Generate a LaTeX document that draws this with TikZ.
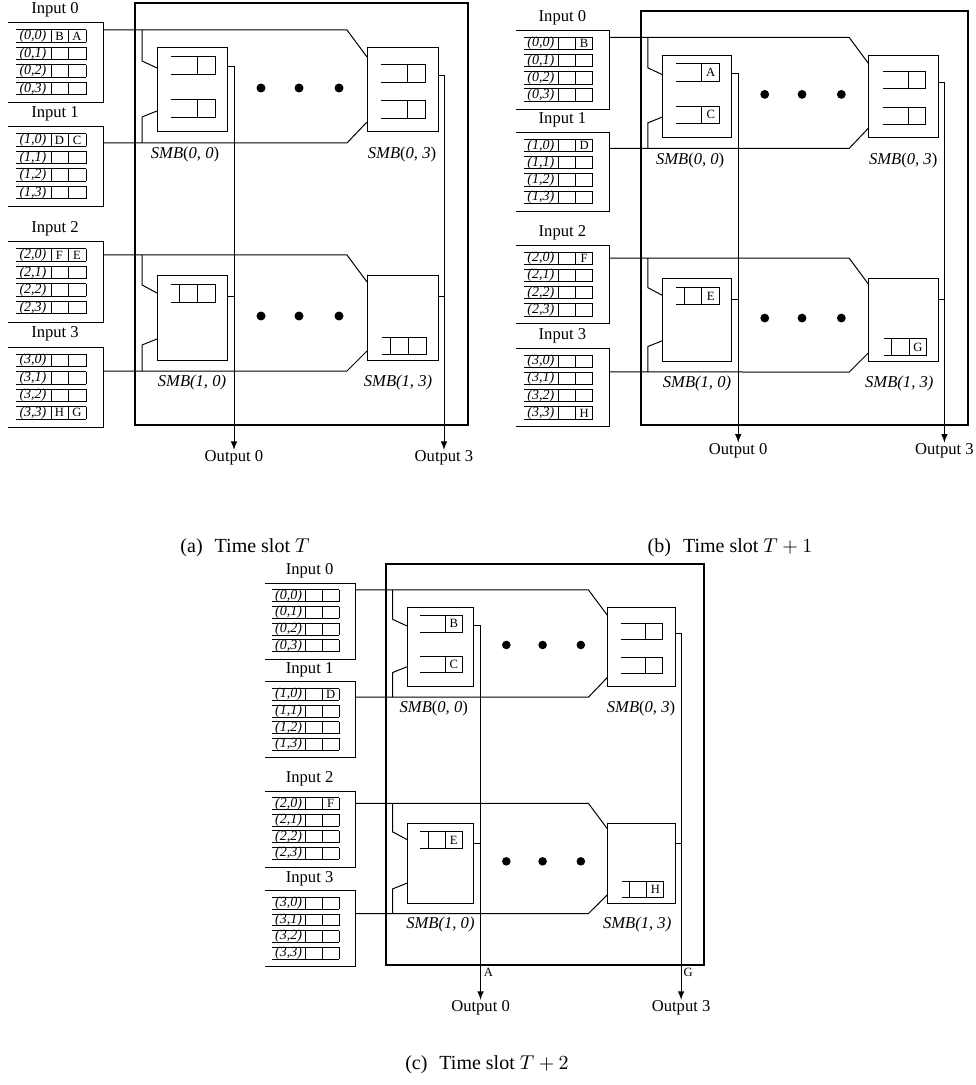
\documentclass[tikz,border=0pt]{standalone}
\usepackage{fontspec}
\setmainfont{Liberation Serif}

% one input port with its four virtual output queues
\newcommand{\voqbox}[4]{%
  \node[inlabel] (#1-lab#2) at (55,#3-13) {Input #2};
  \draw (8,#3) -- (103,#3) -- (103,#3+80) -- (8,#3+80);
  \foreach \row in {0,...,3}{
    \pgfmathsetmacro{\yt}{#3+7+17.5*\row}
    \draw (16,\yt) -- (86,\yt) (16,\yt+12.5) -- (86,\yt+12.5);
    \foreach \xc in {51,68,86}
      \draw (\xc,\yt) -- (\xc,\yt+12.5);
    \node[voq] (#1-voq#2\row) at (33,\yt+6.25) {(#2,\row)};
    \coordinate (#1-c#2\row-a) at (59.5,\yt+6.25);
    \coordinate (#1-c#2\row-b) at (77,\yt+6.25);
  }
  \coordinate (#1-in#2) at (103,#3+#4);
}
% queues inside a shared memory block
\newcommand{\qtwo}[3]{%
  \draw (#2,#3) -- (#2+44,#3) -- (#2+44,#3+17.5) -- (#2,#3+17.5)
        (#2+26,#3) -- (#2+26,#3+17.5);
  \coordinate (#1) at (#2+35,#3+8.75);
}
\newcommand{\qthree}[3]{%
  \qtwo{#1}{#2}{#3}
  \draw (#2+8,#3) -- (#2+8,#3+17.5);
}
% whole switch, #2 = end of the output arrows
\newcommand{\smbpanel}[2]{%
  \draw[frame] (135,3) rectangle (468,425);
  % inputs
  \voqbox{#1}{0}{23}{7}
  \voqbox{#1}{1}{127}{16}
  \voqbox{#1}{2}{242}{13}
  \voqbox{#1}{3}{347}{24}
  % buses
  \draw (#1-in0) -- (347,30) -- (367,57);
  \draw (#1-in1) -- (347,143) -- (367,122);
  \draw (#1-in2) -- (347,255) -- (367,282);
  \draw (#1-in3) -- (347,371) -- (367,351);
  \draw (142,30) -- (142,61) -- (157,68);
  \draw (142,143) -- (142,117) -- (157,111);
  \draw (142,255) -- (142,285) -- (157,293);
  \draw (142,371) -- (142,345) -- (157,339);
  % shared memory blocks
  \draw (157,48) rectangle (227,132);
  \draw (367,48) rectangle (438,132);
  \draw (157,276) rectangle (227,360);
  \draw (367,276) rectangle (438,360);
  \qtwo{#1-q00a}{171}{57}
  \qtwo{#1-q00b}{171}{100}
  \qtwo{#1-q03a}{381}{65}
  \qtwo{#1-q03b}{381}{101}
  \qthree{#1-q10}{171}{285}
  \qthree{#1-q13}{382}{337}
  \node[smbname] (#1-smb00) at (185,155) {SMB\upshape(\itshape0, 0\upshape)};
  \node[smbname] (#1-smb03) at (402,155) {SMB\upshape(\itshape0, 3\upshape)};
  \node[smbname] (#1-smb10) at (192,383) {SMB(1, 0)};
  \node[smbname] (#1-smb13) at (398,383) {SMB(1, 3)};
  \foreach \xd in {261,299,339}{
    \fill (\xd,88) circle (4.5);
    \fill (\xd,316) circle (4.5);}
  % outputs
  \coordinate (#1-s00) at (227,67);
  \coordinate (#1-s03) at (438,76);
  \node[outlabel, anchor=north] (#1-out0) at (234,#2) {Output 0};
  \node[outlabel, anchor=north] (#1-out3) at (444,#2) {Output 3};
  \draw[->] (#1-s00) -| (#1-out0.north);
  \draw[->] (#1-s03) -| (#1-out3.north);
  \draw (227,297) -- (234,297);
  \draw (438,297) -- (444,297);
}

\begin{document}
\begin{tikzpicture}[>=latex, x=0.5pt, y=-0.5pt, line width=0.5pt,
    every node/.style={inner sep=0pt},
    inlabel/.style={font=\fontsize{8.3}{9}\selectfont},
    outlabel/.style={font=\fontsize{8.3}{9}\selectfont},
    voq/.style={font=\fontsize{7}{8}\selectfont\itshape},
    cell/.style={font=\fontsize{6.3}{7}\selectfont},
    smbname/.style={font=\fontsize{8.3}{9}\selectfont\itshape},
    caption/.style={font=\fontsize{10}{12}\selectfont},
    frame/.style={line width=1pt}]
  \useasboundingbox (0,0) rectangle (975,1085);
  % (a) time slot T
  \begin{scope}
    \smbpanel{a}{450}
    \node[cell] (a-B) at (a-c00-a) {B};
    \node[cell] (a-A) at (a-c00-b) {A};
    \node[cell] (a-D) at (a-c10-a) {D};
    \node[cell] (a-C) at (a-c10-b) {C};
    \node[cell] (a-F) at (a-c20-a) {F};
    \node[cell] (a-E) at (a-c20-b) {E};
    \node[cell] (a-H) at (a-c33-a) {H};
    \node[cell] (a-G) at (a-c33-b) {G};
  \end{scope}
  % (b) time slot T+1
  \begin{scope}[shift={(641,11)}, xscale=0.982, yscale=0.981, shift={(-135,-3)}]
    \smbpanel{b}{443}
    \node[cell] (b-B) at (b-c00-b) {B};
    \node[cell] (b-D) at (b-c10-b) {D};
    \node[cell] (b-F) at (b-c20-b) {F};
    \node[cell] (b-H) at (b-c33-b) {H};
    \node[cell] (b-A) at (b-q00a) {A};
    \node[cell] (b-C) at (b-q00b) {C};
    \node[cell] (b-E) at (b-q10) {E};
    \node[cell] (b-G) at (b-q13) {G};
  \end{scope}
  % (c) time slot T+2
  \begin{scope}[shift={(386,564.3)}, xscale=0.955, yscale=0.949, shift={(-135,-3)}]
    \smbpanel{c}{462}
    \node[cell] (c-D) at (c-c10-b) {D};
    \node[cell] (c-F) at (c-c20-b) {F};
    \node[cell] (c-B) at (c-q00a) {B};
    \node[cell] (c-C) at (c-q00b) {C};
    \node[cell] (c-E) at (c-q10) {E};
    \node[cell] (c-H) at (c-q13) {H};
    \node[cell, anchor=north west] (c-A) at (237,428) {A};
    \node[cell, anchor=north west] (c-G) at (446,428) {G};
  \end{scope}
  % captions
  \node[caption] (capa) at (245,548) {(a)\hspace{0.6em}Time slot $T$};
  \node[caption] (capb) at (730,548) {(b)\hspace{0.6em}Time slot $T+1$};
  \node[caption] (capc) at (487,1065) {(c)\hspace{0.6em}Time slot $T+2$};
\end{tikzpicture}
\end{document}
